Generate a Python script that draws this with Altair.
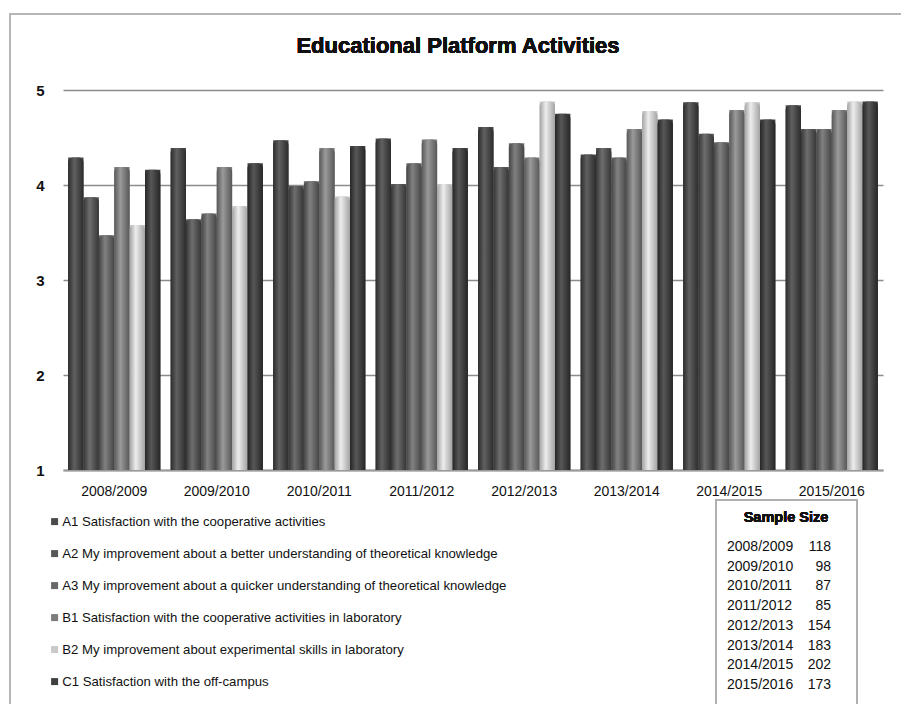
import altair as alt
import pandas as pd

# Academic years and survey items
years = ["2008/2009", "2009/2010", "2010/2011", "2011/2012",
         "2012/2013", "2013/2014", "2014/2015", "2015/2016"]
items = [
    "\u00a0A1 Satisfaction with the cooperative activities",
    "A2 My improvement about a better understanding of theoretical knowledge",
    "A3 My improvement about a quicker understanding of theoretical knowledge",
    "B1 Satisfaction with the cooperative activities in laboratory",
    "B2 My improvement about experimental skills in laboratory",
    "C1 Satisfaction with the off-campus",
]

# Mean scores per item (one value per year)
a1 = [4.29, 4.39, 4.47, 4.49, 4.61, 4.32, 4.87, 4.84]
a2 = [3.87, 3.64, 3.99, 4.01, 4.19, 4.39, 4.54, 4.59]
a3 = [3.47, 3.70, 4.04, 4.23, 4.44, 4.29, 4.45, 4.59]
b1 = [4.19, 4.19, 4.39, 4.48, 4.29, 4.59, 4.79, 4.79]
b2 = [3.58, 3.78, 3.88, 4.01, 4.88, 4.78, 4.87, 4.88]
c1 = [4.16, 4.23, 4.41, 4.39, 4.75, 4.69, 4.69, 4.88]

sample_sizes = [118, 98, 87, 85, 154, 183, 202, 173]

# Flat colours (legend) and cylinder-like shading (edge, highlight) per item
flat_colors = ["#4a4a4a", "#565656", "#686868", "#7c7c7c", "#c9c9c9", "#404040"]
shades = [
    ("#2c2c2c", "#606060"),
    ("#363636", "#6e6e6e"),
    ("#454545", "#818181"),
    ("#585858", "#9a9a9a"),
    ("#a3a3a3", "#ededed"),
    ("#262626", "#575757"),
]

series_values = [a1, a2, a3, b1, b2, c1]
rows = []
for item, vals in zip(items, series_values):
    for yr, v in zip(years, vals):
        rows.append({"year": yr, "item": item, "score": v})
scores = pd.DataFrame(rows)
samples = pd.DataFrame({"year": years, "n": sample_sizes})

FONT = "Liberation Sans"

x_enc = alt.X(
    "year:N", sort=years,
    scale=alt.Scale(domain=years, paddingInner=0.1, paddingOuter=0.05),
    axis=alt.Axis(title=None, labelAngle=0, labelFontSize=14, labelColor="#111",
                  labelFont=FONT, ticks=False, domainColor="#999",
                  domainWidth=2, labelPadding=14),
)
off_enc = alt.XOffset("item:N", sort=items,
                      scale=alt.Scale(domain=items, paddingInner=0, paddingOuter=0))
y_enc = alt.Y(
    "score:Q", scale=alt.Scale(domain=[1, 5], zero=False, nice=False),
    axis=alt.Axis(title=None, values=[1, 2, 3, 4, 5], grid=True,
                  gridColor="#8c8c8c", gridWidth=1.5, domain=False,
                  ticks=False, labelFontSize=15, labelFont=FONT,
                  labelFontWeight="bold", labelColor="#111",
                  labelPadding=19),
)

base = alt.Chart(scores)

# Flat bars carry the colour legend
flat = base.mark_bar().encode(
    x=x_enc,
    xOffset=off_enc,
    y=y_enc,
    y2=alt.datum(1),
    color=alt.Color(
        "item:N", sort=items,
        scale=alt.Scale(domain=items, range=flat_colors),
        legend=alt.Legend(title=None, orient="none", legendX=-15, legendY=425,
                          direction="vertical", symbolType="square",
                          symbolSize=49, symbolStrokeWidth=0,
                          labelFontSize=13.2, labelFont=FONT, labelColor="#111",
                          labelLimit=600, rowPadding=18, labelOffset=1,
                          padding=0),
    ),
)

# Shaded cylinders drawn over the flat bars, one layer per item
shaded_layers = []
for item, (edge, light) in zip(items, shades):
    grad = alt.Gradient(
        gradient="linear", x1=0, x2=1, y1=0, y2=0,
        stops=[alt.GradientStop(color=edge, offset=0),
               alt.GradientStop(color=light, offset=0.4),
               alt.GradientStop(color=edge, offset=1)],
    )
    shaded_layers.append(
        base.transform_filter(alt.datum.item == item)
        .mark_bar(color=grad, cornerRadiusTopLeft=5, cornerRadiusTopRight=5)
        .encode(x=x_enc, xOffset=off_enc, y=y_enc, y2=alt.datum(1))
    )

bars = alt.layer(flat, *shaded_layers)

title = alt.Chart(samples).mark_text(
    text="Educational Platform Activities", font=FONT, fontSize=22,
    fontWeight="bold", color="#111", baseline="alphabetic", align="center",
).encode(x=alt.value(395), y=alt.value(-37))

# Outer frame
frame = alt.Chart(samples).mark_rect(
    fill=None, stroke="#b5b5b5", strokeWidth=1.5
).encode(x=alt.value(-53), x2=alt.value(860), y=alt.value(-76), y2=alt.value(640))

# Sample size table
box = alt.Chart(samples).mark_rect(
    fill=None, stroke="#b0b0b0", strokeWidth=1.5
).encode(x=alt.value(653), x2=alt.value(794), y=alt.value(410), y2=alt.value(630))

table_head = alt.Chart(samples).mark_text(
    text="Sample Size", font=FONT, fontSize=14.5, fontWeight="bold",
    color="#111", align="center", baseline="middle",
).encode(x=alt.value(723), y=alt.value(428))

row_y = alt.Y("year:N", sort=years,
              scale=alt.Scale(type="point", domain=years, range=[457, 595],
                              padding=0),
              axis=None)
table_years = alt.Chart(samples).mark_text(
    font=FONT, fontSize=14, color="#111", align="left", baseline="middle",
).encode(x=alt.value(664), y=row_y, text="year:N")
table_n = alt.Chart(samples).mark_text(
    font=FONT, fontSize=14, color="#111", align="right", baseline="middle",
).encode(x=alt.value(768), y=row_y, text="n:Q")

table = alt.layer(table_years, table_n)

chart = alt.layer(
    frame, bars, table, box, table_head, title
).resolve_scale(y="independent").properties(
    width=820, height=380,
    autosize=alt.AutoSizeParams(type="none"),
    padding={"left": 63, "top": 90, "right": 18, "bottom": 234},
    view=alt.ViewBackground(stroke=None),
).configure_view(stroke=None).configure(background="white")

chart.save("out.html", embed_options={"renderer": "svg", "actions": False})
